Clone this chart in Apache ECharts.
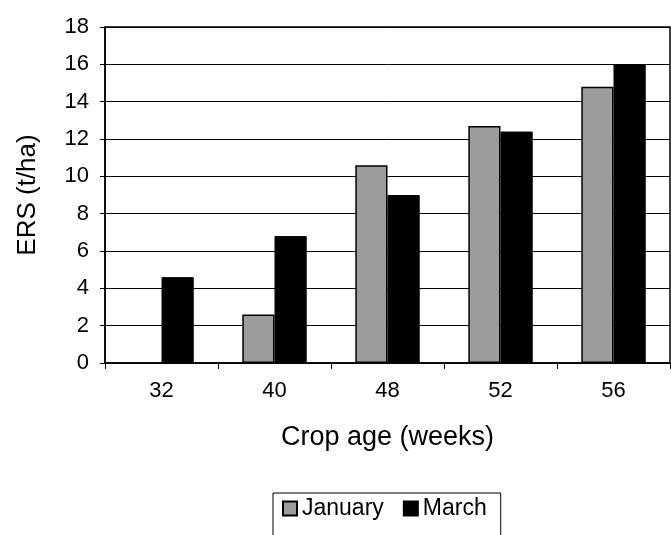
<!DOCTYPE html>
<html>
<head>
<meta charset="utf-8">
<script src="https://cdn.jsdelivr.net/npm/echarts@6/dist/echarts.min.js"></script>
<style>html,body{margin:0;padding:0;background:#fff;}#c{width:671px;height:535px;}</style>
</head>
<body>
<div id="c"></div>
<script>
var categories = ['32', '40', '48', '52', '56'];
var january = [null, 2.6, 10.6, 12.7, 14.8];
var march = [4.6, 6.8, 9.0, 12.4, 16.0];
var yTicks = [0, 18, 2];

var chart = echarts.init(document.getElementById('c'));
var font = 'Liberation Sans, Arial, sans-serif';
chart.setOption({
  animation: false,
  backgroundColor: '#fff',
  textStyle: {fontFamily: font},
  grid: {left: 105, right: 1, top: 27, bottom: 172, show: true, borderColor: '#000', borderWidth: 1.5},
  legend: {
    left: 273, top: 493, orient: 'horizontal',
    borderColor: '#000', borderWidth: 1, padding: [4, 14, 20, 9],
    itemWidth: 14, itemHeight: 14, itemGap: 19, icon: 'rect',
    textStyle: {fontSize: 23, color: '#000', fontFamily: font},
    data: ['January', 'March']
  },
  xAxis: {
    type: 'category', data: categories,
    name: 'Crop age (weeks)', nameLocation: 'middle', nameGap: 61,
    nameTextStyle: {fontSize: 27, color: '#000', fontFamily: font},
    axisLine: {lineStyle: {color: '#000', width: 1.5}},
    axisTick: {show: true, length: 6, lineStyle: {color: '#000'}},
    axisLabel: {fontSize: 22, color: '#000', margin: 17, fontFamily: font}
  },
  yAxis: {
    type: 'value', min: yTicks[0], max: yTicks[1], interval: yTicks[2],
    name: 'ERS (t/ha)', nameLocation: 'middle', nameGap: 64,
    nameTextStyle: {fontSize: 26, color: '#000', fontFamily: font},
    axisLine: {show: true, lineStyle: {color: '#000', width: 1.5}},
    axisTick: {show: true, length: 5, lineStyle: {color: '#000'}},
    splitLine: {lineStyle: {color: '#000', width: 1}},
    axisLabel: {fontSize: 22, color: '#000', margin: 16, fontFamily: font}
  },
  series: [
    {name: 'January', type: 'bar', data: january, barGap: '0%', barCategoryGap: '43%',
     itemStyle: {color: '#9c9c9c', borderColor: '#000', borderWidth: 1.5}},
    {name: 'March', type: 'bar', data: march,
     itemStyle: {color: '#000', borderColor: '#000', borderWidth: 1}}
  ]
});
</script>
</body>
</html>
